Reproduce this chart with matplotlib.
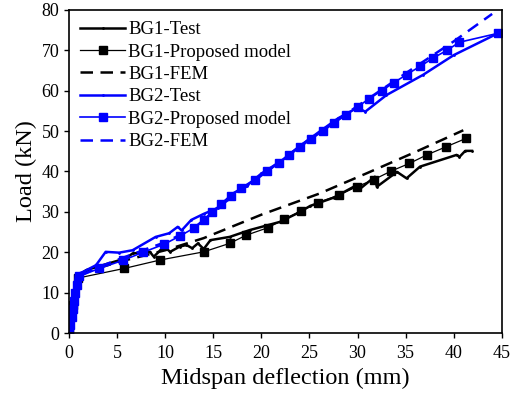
import matplotlib
matplotlib.use("Agg")
import matplotlib.pyplot as plt

plt.rcParams["font.family"] = ["Liberation Serif", "DejaVu Serif"]

# BG1 test curve (deflection mm, load kN)
bg1_test_x = [0, 0.3, 0.6, 0.8, 1.8, 3.5, 5.9, 6.6, 8.0, 8.4, 8.8, 9.5, 10.1, 10.5, 11.5,
              12.2, 12.8, 13.4, 14.0, 14.7, 16.7, 18.8, 21.9, 23.7, 25.1, 27.5, 29.9,
              30.1, 31.8, 32.0, 34.1, 35.1, 36.5, 40.3, 40.6, 41.2, 41.9]
bg1_test_y = [0, 7, 12, 14, 15.6, 16.8, 18.5, 19.7, 20.0, 20.1, 18.9, 20.5, 21.0, 20.1, 21.4,
              21.8, 21.0, 22.2, 20.8, 23.0, 23.8, 25.5, 27.5, 29.6, 31.5, 33.5, 36.6,
              35.4, 38.7, 36.2, 39.9, 38.3, 41.2, 44.1, 43.6, 45.1, 45.1]

# BG1 proposed model
bg1_model_x = [0, 0.45, 0.9, 5.75, 9.5, 14.0, 16.7, 18.4, 20.7, 22.4, 24.1, 25.9, 28.1,
               29.9, 31.7, 33.5, 35.4, 37.2, 39.2, 41.3]
bg1_model_y = [0, 7, 13.6, 16.0, 18.1, 20.1, 22.2, 24.2, 26.1, 28.2, 30.2, 32.3, 34.2,
               36.2, 38.0, 40.1, 42.0, 44.1, 46.1, 48.2]

# BG1 FEM
bg1_fem_x = [0, 0.4, 0.8, 1.5, 5, 10, 14, 20, 26, 31, 36, 41]
bg1_fem_y = [0, 8, 13.5, 15.0, 17.5, 20.5, 23.5, 29.3, 34.5, 39.6, 44.8, 50.2]

# BG2 test curve
bg2_test_x = [0, 0.3, 0.7, 1.5, 2.8, 3.8, 5.2, 6.6, 9.0, 10.4, 11.3, 11.7, 12.7, 14.0,
              15.5, 17.0, 18.5, 20.0, 22.0, 24.0, 26.0, 28.0, 30.0, 30.8, 33.0, 36.8,
              40.0, 44.6]
bg2_test_y = [0, 6, 14.4, 15.2, 16.8, 20.1, 19.9, 20.5, 23.8, 24.7, 26.3, 25.4, 28.0, 29.5,
              31.0, 34.5, 36.5, 39.5, 42.5, 46.3, 49.8, 53.2, 55.8, 54.8, 58.9, 63.9,
              68.8, 74.2]

# BG2 proposed model
bg2_model_x = [0, 0.12, 0.25, 0.38, 0.5, 0.62, 0.78, 1.0, 3.15, 5.6, 7.7, 9.9, 11.5, 13.0,
               14.0, 14.9, 15.8, 16.8, 17.9, 19.3, 20.6, 21.8, 22.9, 24.0, 25.2, 26.4,
               27.6, 28.8, 30.0, 31.2, 32.5, 33.8, 35.1, 36.5, 37.8, 39.3, 40.6, 44.6]
bg2_model_y = [0, 2, 4, 6, 8, 10, 12, 14, 16, 18, 20, 22, 24, 26,
               28, 30, 32, 34, 36, 38, 40, 42, 44, 46, 48, 50,
               52, 54, 56, 58, 60, 62, 64, 66, 68, 70, 72, 74.2]

# BG2 FEM
bg2_fem_x = [0, 0.5, 1.0, 3, 6, 10, 13, 16, 20, 25, 30, 35, 40, 44]
bg2_fem_y = [0, 7, 14, 16.3, 19, 22.5, 26, 32, 39, 48, 56.2, 64.3, 72.2, 79]

fig = plt.figure(figsize=(5.12, 3.96), dpi=100)
ax = fig.add_axes([0.135, 0.159, 0.845, 0.816])

blue = "#0000ff"
ax.plot(bg1_test_x, bg1_test_y, color="black", lw=1.8, marker=".", markersize=2, label="BG1-Test")
ax.plot(bg1_model_x, bg1_model_y, color="black", lw=0.9, marker="s", markersize=5.5, label="BG1-Proposed model")
ax.plot(bg1_fem_x, bg1_fem_y, color="black", lw=1.8, ls=(0, (5, 3)), label="BG1-FEM")
ax.plot(bg2_test_x, bg2_test_y, color=blue, lw=1.8, marker=".", markersize=2, label="BG2-Test")
ax.plot(bg2_model_x, bg2_model_y, color=blue, lw=1.2, marker="s", markersize=5.5, label="BG2-Proposed model")
ax.plot(bg2_fem_x, bg2_fem_y, color=blue, lw=1.8, ls=(0, (5, 3)), label="BG2-FEM")

ax.set_xlim(0, 45)
ax.set_ylim(0, 80)
ax.set_xticks(range(0, 46, 5))
ax.set_yticks(range(0, 81, 10))
ax.tick_params(direction="out", length=3.5, width=1, labelsize=13)
ax.tick_params(axis="x", pad=5)
for s in ax.spines.values():
    s.set_linewidth(1.2)

ax.set_xlabel("Midspan deflection (mm)", fontsize=17.5, labelpad=4)
ax.set_ylabel("Load (kN)", fontsize=17.5, labelpad=3)

ax.legend(loc="upper left", frameon=False, fontsize=13.5, handlelength=2.4,
          handletextpad=0.15, labelspacing=0.28, borderaxespad=0.2)

fig.savefig("out.png", dpi=100)
